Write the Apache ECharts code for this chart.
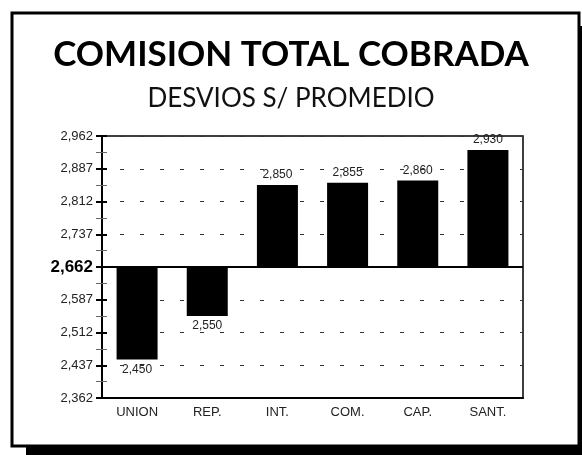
<!DOCTYPE html>
<html>
<head>
<meta charset="utf-8">
<title>Comision total cobrada</title>
<script src="https://cdn.jsdelivr.net/npm/echarts@6/dist/echarts.min.js"></script>
<style>
  html, body { margin: 0; padding: 0; background: #fff; }
  #chart { width: 582px; height: 455px; }
</style>
</head>
<body>
<div id="chart"></div>
<script>
var categories = ['UNION', 'REP.', 'INT.', 'COM.', 'CAP.', 'SANT.'];
var values = [2450, 2550, 2850, 2855, 2860, 2930];
var promedio = 2662;
var yMin = 2362;
var yMax = 2962;
var yStep = 75;

// bars go from the average to each value: an invisible base plus the visible part
var baseData = [];
var diffData = [];
for (var i = 0; i < values.length; i++) {
  var v = values[i];
  baseData.push(Math.min(v, promedio));
  diffData.push({
    value: Math.abs(v - promedio),
    label: { position: v >= promedio ? 'top' : 'bottom' }
  });
}

function fmt(n) {
  return Math.round(n).toLocaleString('en-US');
}

var dom = document.getElementById('chart');
var chart = echarts.init(dom);

var option = {
  animation: false,
  backgroundColor: '#fff',
  title: {
    text: 'COMISION TOTAL COBRADA',
    subtext: 'DESVIOS S/ PROMEDIO',
    left: 'center',
    top: 32,
    itemGap: 14,
    textStyle: { fontFamily: 'Lato', fontWeight: 'bold', fontSize: 35, color: '#000' },
    subtextStyle: { fontFamily: 'Lato', fontSize: 26, color: '#111' }
  },
  graphic: [
    { type: 'rect', shape: { x: 26, y: 447, width: 560, height: 10 }, style: { fill: '#000' } },
    { type: 'rect', shape: { x: 580, y: 26, width: 6, height: 430 }, style: { fill: '#000' } },
    { type: 'rect', shape: { x: 12, y: 13, width: 567, height: 433 }, style: { fill: 'none', stroke: '#000', lineWidth: 3 } }
  ],
  grid: {
    left: 102,
    right: 59,
    top: 136,
    bottom: 57,
    show: true,
    borderColor: '#000',
    borderWidth: 1.5
  },
  xAxis: {
    type: 'category',
    data: categories,
    axisLine: { lineStyle: { color: '#000', width: 2 } },
    axisTick: { inside: true, alignWithLabel: true, length: 7, lineStyle: { color: '#000', width: 2 } },
    axisLabel: { fontFamily: 'Liberation Sans', fontSize: 13, color: '#222', margin: 8 }
  },
  yAxis: [{
    type: 'value',
    min: yMin,
    max: yMax,
    interval: yStep,
    axisLine: { show: true, lineStyle: { color: '#000', width: 2 } },
    axisTick: { show: true, length: 6, lineStyle: { color: '#000', width: 2 } },
    minorTick: { show: true, splitNumber: 2, length: 6, lineStyle: { color: '#666', width: 1 } },
    axisLabel: {
      margin: 9,
      fontFamily: 'Liberation Sans',
      fontSize: 13,
      color: '#222',
      formatter: function(val) {
        if (val === promedio) return '{b|' + fmt(val) + '}';
        return fmt(val);
      },
      rich: {
        b: { fontFamily: 'Liberation Sans', fontWeight: 'bold', fontSize: 17, color: '#000' }
      }
    },
    splitLine: {
      show: true,
      lineStyle: { color: '#333', width: 1, type: [4, 16], dashOffset: -18 }
    }
  }, {
    type: 'value',
    min: yMin,
    max: yMax,
    interval: yStep,
    position: 'left',
    axisLine: { show: false },
    axisTick: { show: true, inside: true, length: 5, lineStyle: { color: '#000', width: 2 } },
    minorTick: { show: true, splitNumber: 2, length: 5, lineStyle: { color: '#666', width: 1 } },
    axisLabel: { show: false },
    splitLine: { show: false }
  }],
  series: [{
    type: 'bar',
    stack: 'desvio',
    data: baseData,
    barWidth: 41,
    itemStyle: { color: 'transparent' },
    silent: true
  }, {
    type: 'bar',
    stack: 'desvio',
    data: diffData,
    barWidth: 41,
    itemStyle: { color: '#000' },
    label: {
      show: true,
      distance: 4,
      fontFamily: 'Liberation Sans',
      fontSize: 12,
      color: '#222',
      formatter: function(p) {
        return fmt(values[p.dataIndex]);
      }
    },
    markLine: {
      silent: true,
      symbol: 'none',
      label: { show: false },
      lineStyle: { color: '#000', type: 'solid', width: 2 },
      data: [{ yAxis: promedio }]
    }
  }]
};
chart.setOption(option);
</script>
</body>
</html>
